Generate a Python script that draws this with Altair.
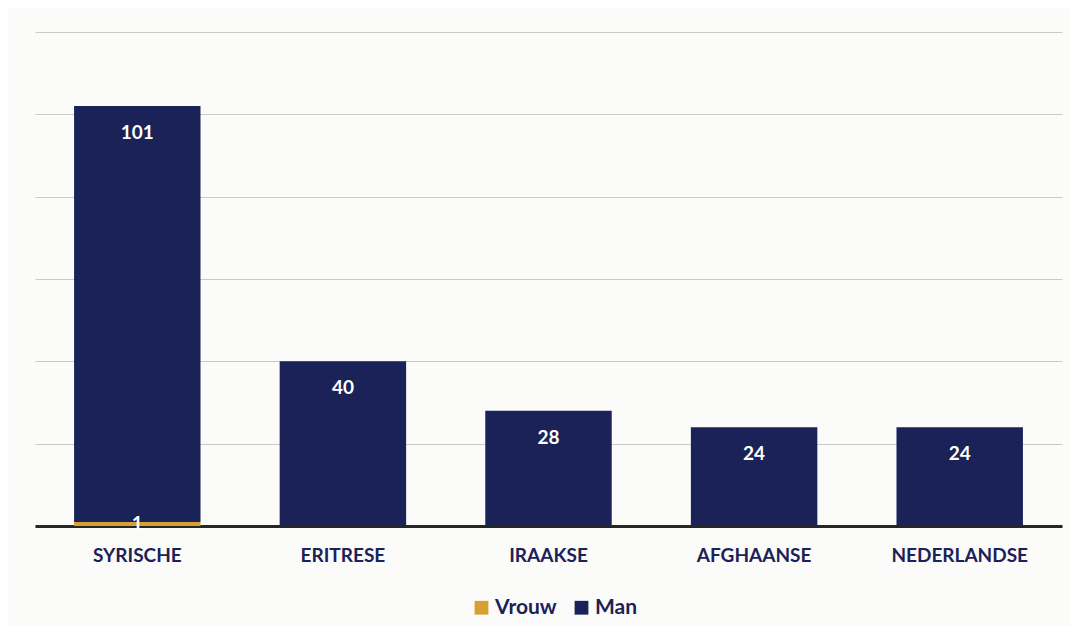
import altair as alt
import pandas as pd

categories = ["SYRISCHE", "ERITRESE", "IRAAKSE", "AFGHAANSE", "NEDERLANDSE"]
man = [101, 40, 28, 24, 24]
vrouw = [1, 0, 0, 0, 0]
series = ["Vrouw", "Man"]
colors = ["#D6A131", "#1B2257"]

rows = []
for c, v, m in zip(categories, vrouw, man):
    rows.append({"cat": c, "serie": "Vrouw", "value": v, "lo": 0, "hi": v, "ord": 0})
    rows.append({"cat": c, "serie": "Man", "value": m, "lo": v, "hi": v + m, "ord": 1})
df = pd.DataFrame(rows)

font = "Lato"
navy = "#1B2257"

x = alt.X("cat:N", sort=categories, title=None,
          scale=alt.Scale(paddingInner=0.385, paddingOuter=0.19),
          axis=alt.Axis(labelAngle=0, labelFont=font, labelFontSize=19, labelFontWeight="bold",
                        labelColor=navy, labelPadding=20, ticks=False,
                        domainColor="#262626", domainWidth=3))
y_scale = alt.Scale(domain=[0, 120], nice=False)

bars = alt.Chart(df).mark_bar().encode(
    x=x,
    y=alt.Y("lo:Q", scale=y_scale, title=None,
            axis=alt.Axis(values=[0, 20, 40, 60, 80, 100, 120], labels=False, ticks=False,
                          domain=False, gridColor="#c9c9c9", gridWidth=1)),
    y2="hi:Q",
    color=alt.Color("serie:N", scale=alt.Scale(domain=series, range=colors), title=None,
                    legend=alt.Legend(orient="none", legendX=436, legendY=565, direction="horizontal",
                                      symbolType="square", symbolSize=190, symbolStrokeWidth=0,
                                      labelFont=font, labelFontSize=21, labelFontWeight="bold",
                                      labelColor=navy, columnPadding=14, labelOffset=3)),
    order=alt.Order("ord:Q"),
)

man_labels = alt.Chart(df).transform_filter("datum.serie == 'Man'").mark_text(
    color="white", font=font, fontSize=19, fontWeight="bold", baseline="middle", dy=27
).encode(x=alt.X("cat:N", sort=categories), y=alt.Y("hi:Q", scale=y_scale), text="value:Q")

vrouw_labels = alt.Chart(df).transform_filter("datum.serie == 'Vrouw' && datum.value > 0").transform_calculate(
    mid="(datum.lo + datum.hi) / 2"
).mark_text(
    color="white", font=font, fontSize=19, fontWeight="bold", baseline="middle"
).encode(x=alt.X("cat:N", sort=categories), y=alt.Y("mid:Q", scale=y_scale), text="value:Q")

chart = alt.layer(bars, man_labels, vrouw_labels).properties(
    width=1027, height=494,
    padding={"left": 27, "top": 24, "right": 8, "bottom": 8},
    background="#fbfbfa",
).configure_view(stroke=None)

chart.save("out.html", embed_options={"renderer": "svg", "actions": False})
